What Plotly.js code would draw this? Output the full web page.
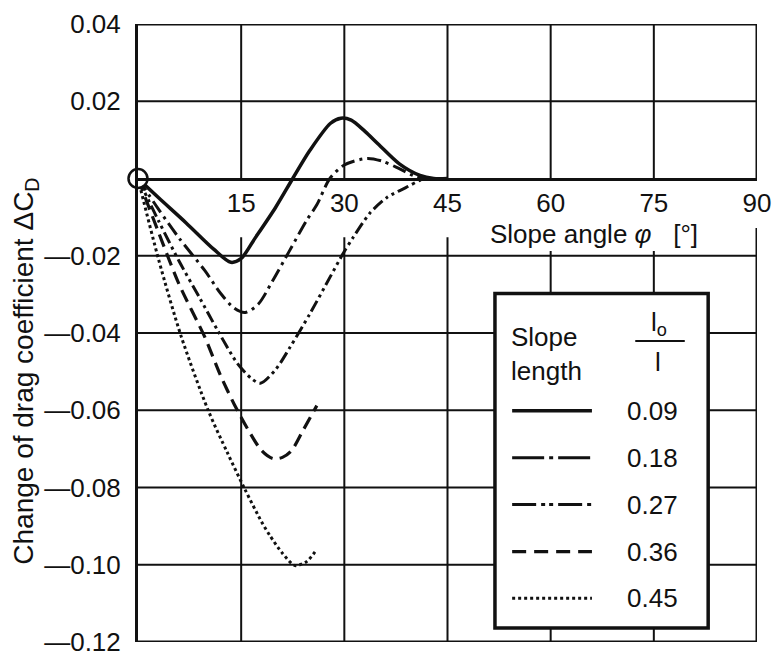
<!DOCTYPE html>
<html>
<head>
<meta charset="utf-8">
<script src="https://cdn.plot.ly/plotly-3.0.1.min.js"></script>
<style>html,body{margin:0;padding:0;background:#fff;}#chart{width:777px;height:662px;}</style>
</head>
<body>
<div id="chart"></div>
<script>
// Slope angle (deg) and change of drag coefficient for each slope length ratio lo/l
const ratioLabels = ['0.09', '0.18', '0.27', '0.36', '0.45'];

const phi09 = [0, 3, 7, 11, 13.5, 15, 17, 20, 22.5, 25, 28, 29.5, 31, 33, 35, 38, 41, 43, 45];
const dc09  = [0, -0.005, -0.0115, -0.0183, -0.0217, -0.0207, -0.0155, -0.0075, 0, 0.0073, 0.0143, 0.0156, 0.0151, 0.0122, 0.0088, 0.0038, 0.0008, 0, 0];

const phi18 = [0, 3, 6, 9.7, 12, 14, 15.6, 17.5, 19.6, 22, 24.5, 26, 27.9, 30, 33.3, 35.5, 37.6, 40.5, 42];
const dc18  = [0, -0.008, -0.0155, -0.0238, -0.0297, -0.0336, -0.0347, -0.0325, -0.0264, -0.0188, -0.0109, -0.0068, 0, 0.0035, 0.0052, 0.0045, 0.0029, 0.0004, 0];

const phi27 = [0, 3, 6, 9, 11.6, 14.5, 16.5, 17.8, 20, 22.1, 25, 27.9, 29.8, 31.3, 33.7, 36.2, 39, 41, 42.5];
const dc27  = [0, -0.011, -0.0215, -0.031, -0.0394, -0.048, -0.0518, -0.053, -0.0495, -0.0437, -0.035, -0.0256, -0.0195, -0.0152, -0.009, -0.0049, -0.0023, -0.0005, 0];

const phi36 = [0, 3, 6, 9.7, 12, 14, 16, 18, 19.6, 21, 22.3, 24, 26];
const dc36  = [0, -0.014, -0.0275, -0.041, -0.051, -0.0585, -0.065, -0.0705, -0.0725, -0.0722, -0.0705, -0.0652, -0.0588];

const phi45 = [0, 3, 6.3, 10.2, 13, 15.5, 18, 19.2, 21, 22.8, 24.5, 26];
const dc45  = [0, -0.021, -0.041, -0.06, -0.071, -0.0803, -0.089, -0.0925, -0.097, -0.1002, -0.0992, -0.096];

const xTickVals = [15, 30, 45, 60, 75, 90];
const yTickVals = [0.04, 0.02, -0.02, -0.04, -0.06, -0.08, -0.10, -0.12];
const yTickText = ['0.04', '0.02', '\u20140.02', '\u20140.04', '\u20140.06', '\u20140.08', '\u20140.10', '\u20140.12'];

const FONT = 'Liberation Sans, Arial, Helvetica, sans-serif';
const INK = '#111';

const dashes = ['solid', '14px,5px,3px,5px', '12px,4px,3px,4px,3px,4px', '13px,7px', '3px,3px'];
const legendDashes = ['solid', '32px,5px,4px,5px', '24px,5px,4px,4px,4px,5px', '14px,8px', '3px,3px'];
const widths = [3.5, 3, 3, 3.2, 3];

const seriesX = [phi09, phi18, phi27, phi36, phi45];
const seriesY = [dc09, dc18, dc27, dc36, dc45];

const traces = seriesX.map((xs, i) => ({
  type: 'scatter', mode: 'lines', x: xs, y: seriesY[i], name: ratioLabels[i],
  line: {color: INK, width: widths[i], dash: dashes[i], shape: 'spline', smoothing: 0.8},
  showlegend: false, hoverinfo: 'skip'
}));
traces.push({
  type: 'scatter', mode: 'markers', x: [0], y: [0], showlegend: false, hoverinfo: 'skip', cliponaxis: false,
  marker: {size: 19, color: '#fff', line: {color: INK, width: 2.5}}
});

const shapes = [];
// grid lines
[15, 30, 45, 60, 75].forEach(v => shapes.push({type: 'line', layer: 'below', xref: 'x', yref: 'y', x0: v, x1: v, y0: -0.12, y1: 0.04, line: {color: INK, width: 2}}));
[0.02, -0.02, -0.04, -0.06, -0.08, -0.10].forEach(v => shapes.push({type: 'line', layer: 'below', xref: 'x', yref: 'y', x0: 0, x1: 90, y0: v, y1: v, line: {color: INK, width: 2}}));
// white band holding the x tick labels and the x title
shapes.push({type: 'rect', layer: 'below', xref: 'x', yref: 'y', x0: 0.5, x1: 91, y0: -0.0152, y1: 0, fillcolor: '#fff', line: {width: 0}});
shapes.push({type: 'rect', layer: 'below', xref: 'x', yref: 'y', x0: 48, x1: 91, y0: -0.0188, y1: 0, fillcolor: '#fff', line: {width: 0}});
// frame
shapes.push({type: 'line', layer: 'below', xref: 'x', yref: 'y', x0: 0, x1: 90, y0: 0.04, y1: 0.04, line: {color: INK, width: 3}});
shapes.push({type: 'line', layer: 'below', xref: 'x', yref: 'y', x0: 0, x1: 90, y0: -0.12, y1: -0.12, line: {color: INK, width: 3}});
shapes.push({type: 'line', layer: 'below', xref: 'x', yref: 'y', x0: 90, x1: 90, y0: 0.04, y1: 0, line: {color: INK, width: 3}});
shapes.push({type: 'line', layer: 'below', xref: 'x', yref: 'y', x0: 90, x1: 90, y0: -0.0128, y1: -0.12, line: {color: INK, width: 3}});
// legend box
shapes.push({type: 'rect', layer: 'below', xref: 'x', yref: 'y', x0: 51.9, x1: 82.9, y0: -0.1164, y1: -0.0298, fillcolor: '#fff', line: {color: INK, width: 3.5}});
// fraction bar lo / l
shapes.push({type: 'line', layer: 'below', xref: 'x', yref: 'y', x0: 72.3, x1: 79.5, y0: -0.0421, y1: -0.0421, line: {color: INK, width: 2}});

const annotations = [];
const rowY = [-0.0601, -0.0723, -0.0844, -0.0966, -0.1087];
ratioLabels.forEach((lab, i) => {
  shapes.push({type: 'line', layer: 'below', xref: 'x', yref: 'y', x0: 54.4, x1: 66.0, y0: rowY[i], y1: rowY[i], line: {color: INK, width: widths[i], dash: legendDashes[i]}});
  annotations.push({xref: 'x', yref: 'y', x: 70.8, y: rowY[i], text: lab, showarrow: false, xanchor: 'left', yanchor: 'middle', font: {family: FONT, size: 26, color: INK}});
});
annotations.push({xref: 'x', yref: 'y', x: 54.0, y: -0.0454, text: 'Slope<br>length', align: 'left', showarrow: false, xanchor: 'left', yanchor: 'middle', font: {family: FONT, size: 26, color: INK}});
annotations.push({xref: 'x', yref: 'y', x: 75.8, y: -0.0375, text: 'l<sub>o</sub>', showarrow: false, xanchor: 'center', yanchor: 'middle', font: {family: FONT, size: 26, color: INK}});
annotations.push({xref: 'x', yref: 'y', x: 75.6, y: -0.0474, text: 'l', showarrow: false, xanchor: 'center', yanchor: 'middle', font: {family: FONT, size: 26, color: INK}});
// x axis title
annotations.push({xref: 'x', yref: 'y', x: 66.3, y: -0.0143, text: 'Slope angle <i>\u03c6</i>\u00a0\u00a0\u00a0[\u00b0]', showarrow: false, xanchor: 'center', yanchor: 'middle', font: {family: FONT, size: 26, color: INK}});
// y axis title
annotations.push({xref: 'paper', yref: 'paper', x: -0.183, y: 0.4385, text: 'Change of drag coefficient \u0394C<sub>D</sub>', textangle: -90, showarrow: false, xanchor: 'center', yanchor: 'middle', font: {family: FONT, size: 28, color: INK}});

const layout = {
  width: 777, height: 662,
  margin: {l: 138, r: 20, t: 24, b: 20, pad: 0},
  paper_bgcolor: '#fff', plot_bgcolor: '#fff',
  showlegend: false,
  xaxis: {
    range: [0, 90], anchor: 'free', position: 0.75, side: 'bottom',
    showgrid: false, zeroline: false, showline: true, linewidth: 3, linecolor: INK,
    tickmode: 'array', tickvals: xTickVals, ticks: '', ticklabelstandoff: 0,
    tickfont: {family: FONT, size: 26, color: INK}, fixedrange: true
  },
  yaxis: {
    range: [-0.12, 0.04],
    showgrid: false, zeroline: false, showline: true, linewidth: 3, linecolor: INK,
    tickmode: 'array', tickvals: yTickVals, ticktext: yTickText, ticks: '', ticklabelstandoff: 9,
    tickfont: {family: FONT, size: 26, color: INK}, fixedrange: true
  },
  shapes: shapes,
  annotations: annotations
};

Plotly.newPlot('chart', traces, layout, {staticPlot: true, displayModeBar: false});
</script>
</body>
</html>
